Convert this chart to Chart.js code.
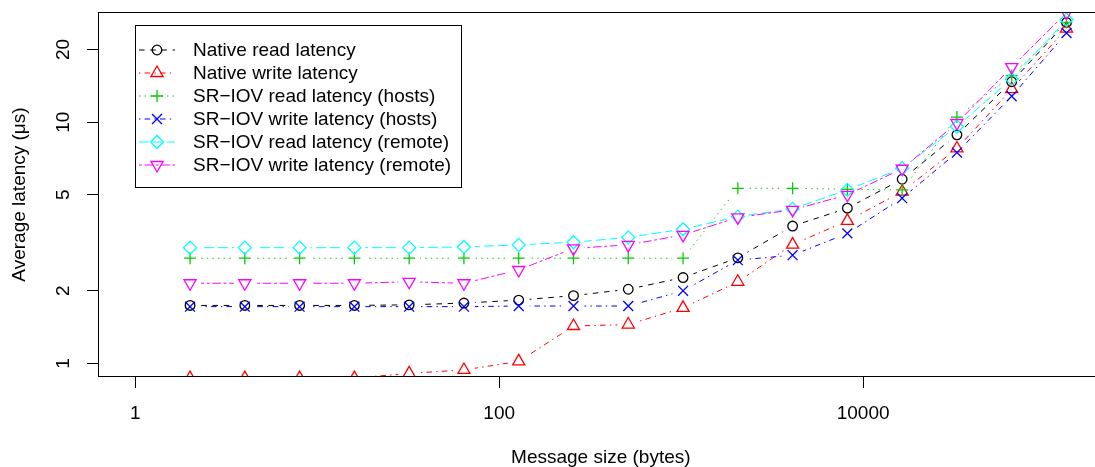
<!DOCTYPE html>
<html>
<head>
<meta charset="utf-8">
<script src="https://cdn.jsdelivr.net/npm/chart.js@4/dist/chart.umd.min.js"></script>
<style>
    html, body { margin: 0; padding: 0; overflow: hidden; background: #fff; }
    canvas { display: block; }
</style>
</head>
<body>
<canvas id="latencyChart" width="1112" height="467"></canvas>
<script>
// Message sizes in bytes (2^1 .. 2^17)
const sizes = [2, 4, 8, 16, 32, 64, 128, 256, 512, 1024, 2048, 4096, 8192, 16384, 32768, 65536, 131072];

// Average latency in microseconds
const nativeRead = [1.74, 1.74, 1.74, 1.74, 1.75, 1.78, 1.83, 1.91, 2.03, 2.27, 2.74, 3.71, 4.40, 5.80, 8.86, 14.7, 25.9];
const nativeWrite = [0.87, 0.87, 0.87, 0.87, 0.91, 0.94, 1.02, 1.43, 1.45, 1.70, 2.18, 3.11, 3.90, 5.15, 7.78, 13.7, 24.4];
const sriovReadHosts = [2.73, 2.73, 2.73, 2.73, 2.73, 2.73, 2.73, 2.73, 2.73, 2.73, 5.32, 5.32, 5.27, 5.24, 10.5, 15.6, 25.9];
const sriovWriteHosts = [1.72, 1.72, 1.72, 1.72, 1.72, 1.72, 1.73, 1.73, 1.73, 2.00, 2.68, 2.81, 3.46, 4.84, 7.48, 12.8, 23.4];
const sriovReadRemote = [3.02, 3.02, 3.02, 3.02, 3.02, 3.04, 3.10, 3.18, 3.33, 3.60, 4.06, 4.37, 5.24, 6.44, 9.59, 15.1, 26.6];
const sriovWriteRemote = [2.15, 2.15, 2.15, 2.15, 2.18, 2.15, 2.44, 3.00, 3.10, 3.41, 4.03, 4.33, 5.00, 6.41, 9.92, 16.9, 28.4];

const seriesLabels = [
    'Native read latency',
    'Native write latency',
    'SR\u2212IOV read latency (hosts)',
    'SR\u2212IOV write latency (hosts)',
    'SR\u2212IOV read latency (remote)',
    'SR\u2212IOV write latency (remote)'
];

const xTicks = [1, 100, 10000];
const yTicks = [1, 2, 5, 10, 20];

// R-ish styling: colour, lty pattern and pch for each series
const styles = [
    { color: '#000000', dash: [5.6, 5.6], point: 'circle', radius: 4.8, rotation: 0 },
    { color: '#FF0000', dash: [1.4, 4.2, 5.6, 4.2], point: 'triangle', radius: 7, rotation: 0 },
    { color: '#00CD00', dash: [1.4, 4.2], point: 'cross', radius: 6, rotation: 0 },
    { color: '#0000FF', dash: [1.4, 4.2, 5.6, 4.2], point: 'crossRot', radius: 7, rotation: 0 },
    { color: '#00FFFF', dash: [9.8, 4.2], point: 'rectRot', radius: 6.5, rotation: 0 },
    { color: '#FF00FF', dash: [2.8, 2.8, 8.4, 2.8], point: 'triangle', radius: 7, rotation: 180 }
];

const seriesValues = [nativeRead, nativeWrite, sriovReadHosts, sriovWriteHosts, sriovReadRemote, sriovWriteRemote];
const FONT = "'Liberation Sans', Arial, Helvetica, sans-serif";
const GAP = 11; // like type="b": lines stop short of the points

Chart.defaults.font.family = FONT;
Chart.defaults.color = '#000';

// build datasets: one for the gapped line, one for the points of every series
const datasets = [];
const n = seriesValues.length;
seriesValues.forEach((vals, i) => {
    const st = styles[i];
    const data = sizes.map((s, k) => ({ x: s, y: vals[k] }));
    datasets.push({
        label: seriesLabels[i],
        data: data,
        borderColor: st.color,
        borderWidth: 1,
        borderDash: st.dash,
        pointRadius: 0,
        pointHitRadius: 0,
        fill: false,
        tension: 0,
        clip: 0,
        gapLine: true,
        order: 2 * (n - i) + 1
    });
    datasets.push({
        label: seriesLabels[i],
        data: data,
        showLine: false,
        pointStyle: st.point,
        pointRadius: st.radius,
        pointRotation: st.rotation,
        pointBorderColor: st.color,
        pointBackgroundColor: 'rgba(0,0,0,0)',
        pointBorderWidth: 1.3,
        clip: 0,
        order: 2 * (n - i)
    });
});

// cut a hole round each point so that the line segments stop short of them
const gapPlugin = {
    id: 'gapPlugin',
    beforeDatasetDraw(chart, args) {
        const ds = chart.data.datasets[args.index];
        if (!ds.gapLine) return;
        const ctx = chart.ctx;
        const a = chart.chartArea;
        ctx.save();
        ctx.beginPath();
        ctx.rect(a.left, a.top, a.right - a.left, a.bottom - a.top);
        args.meta.data.forEach(pt => {
            ctx.moveTo(pt.x + GAP, pt.y);
            ctx.arc(pt.x, pt.y, GAP, 0, Math.PI * 2);
        });
        ctx.clip('evenodd');
    },
    afterDatasetDraw(chart, args) {
        const ds = chart.data.datasets[args.index];
        if (!ds.gapLine) return;
        chart.ctx.restore();
    }
};

// box round the plot region
const framePlugin = {
    id: 'framePlugin',
    afterDraw(chart) {
        const ctx = chart.ctx;
        const a = chart.chartArea;
        ctx.save();
        ctx.strokeStyle = '#000';
        ctx.lineWidth = 1;
        ctx.setLineDash([]);
        ctx.strokeRect(a.left + 0.5, a.top + 0.5, a.right - a.left - 1, a.bottom - a.top - 1);
        ctx.restore();
    }
};

// R style legend (line sample with point in the middle)
const legendPlugin = {
    id: 'rLegend',
    afterDraw(chart) {
        const ctx = chart.ctx;
        const box = { x: 135.5, y: 25.5, w: 326, h: 162 };
        const rowH = 23;
        const firstRow = 50;
        ctx.save();
        ctx.fillStyle = '#fff';
        ctx.fillRect(box.x, box.y, box.w, box.h);
        ctx.strokeStyle = '#000';
        ctx.lineWidth = 1;
        ctx.strokeRect(box.x, box.y, box.w, box.h);
        seriesLabels.forEach((label, i) => {
            const st = styles[i];
            const y = firstRow + i * rowH;
            ctx.beginPath();
            ctx.setLineDash(st.dash);
            ctx.strokeStyle = st.color;
            ctx.lineWidth = 1;
            ctx.moveTo(139, y);
            ctx.lineTo(175, y);
            ctx.stroke();
            ctx.setLineDash([]);
            ctx.lineWidth = 1.3;
            ctx.strokeStyle = st.color;
            ctx.fillStyle = 'rgba(0,0,0,0)';
            Chart.helpers.drawPoint(ctx, {
                pointStyle: st.point,
                radius: st.radius,
                rotation: st.rotation,
                borderWidth: 1.3
            }, 157, y);
            ctx.fillStyle = '#000';
            ctx.font = '19px ' + FONT;
            ctx.textAlign = 'left';
            ctx.textBaseline = 'middle';
            ctx.fillText(label, 193, y + 1);
        });
        ctx.restore();
    }
};

new Chart(document.getElementById('latencyChart').getContext('2d'), {
    type: 'line',
    data: { datasets: datasets },
    options: {
        responsive: false,
        animation: false,
        devicePixelRatio: 1,
        layout: { padding: { top: 12, right: 1, left: 0, bottom: 0 } },
        plugins: {
            legend: { display: false },
            tooltip: { enabled: false }
        },
        scales: {
            x: {
                type: 'logarithmic',
                position: 'bottom',
                bounds: 'data',
                min: 0.624,
                max: 209900,
                afterBuildTicks: (s) => { s.ticks = xTicks.map(v => ({ value: v })); },
                afterFit: (s) => { s.height = 90; s.paddingLeft = 0; s.paddingRight = 0; },
                grid: { drawOnChartArea: false, drawTicks: true, tickLength: 11, tickColor: '#000', tickWidth: 1 },
                border: { display: false },
                ticks: {
                    color: '#000',
                    font: { size: 19 },
                    padding: 14,
                    maxRotation: 0,
                    autoSkip: false,
                    callback: (v) => String(v)
                },
                title: {
                    display: true,
                    text: 'Message size (bytes)',
                    color: '#000',
                    font: { size: 19, lineHeight: 1 },
                    padding: { top: 0, bottom: 0 }
                }
            },
            y: {
                type: 'logarithmic',
                position: 'left',
                bounds: 'data',
                min: 0.879,
                max: 28.6,
                afterBuildTicks: (s) => { s.ticks = yTicks.map(v => ({ value: v })); },
                afterFit: (s) => { s.width = 98; s.paddingTop = 0; s.paddingBottom = 0; },
                grid: { drawOnChartArea: false, drawTicks: true, tickLength: 11, tickColor: '#000', tickWidth: 1 },
                border: { display: false },
                ticks: {
                    color: '#000',
                    font: { size: 19 },
                    padding: 13,
                    minRotation: 90,
                    maxRotation: 90,
                    crossAlign: 'center',
                    autoSkip: false,
                    callback: (v) => String(v)
                },
                title: {
                    display: true,
                    text: 'Average latency (\u03bcs)',
                    color: '#000',
                    font: { size: 19, lineHeight: 1 },
                    padding: { top: 10, bottom: 0 }
                }
            }
        }
    },
    plugins: [gapPlugin, framePlugin, legendPlugin]
});
</script>
</body>
</html>
